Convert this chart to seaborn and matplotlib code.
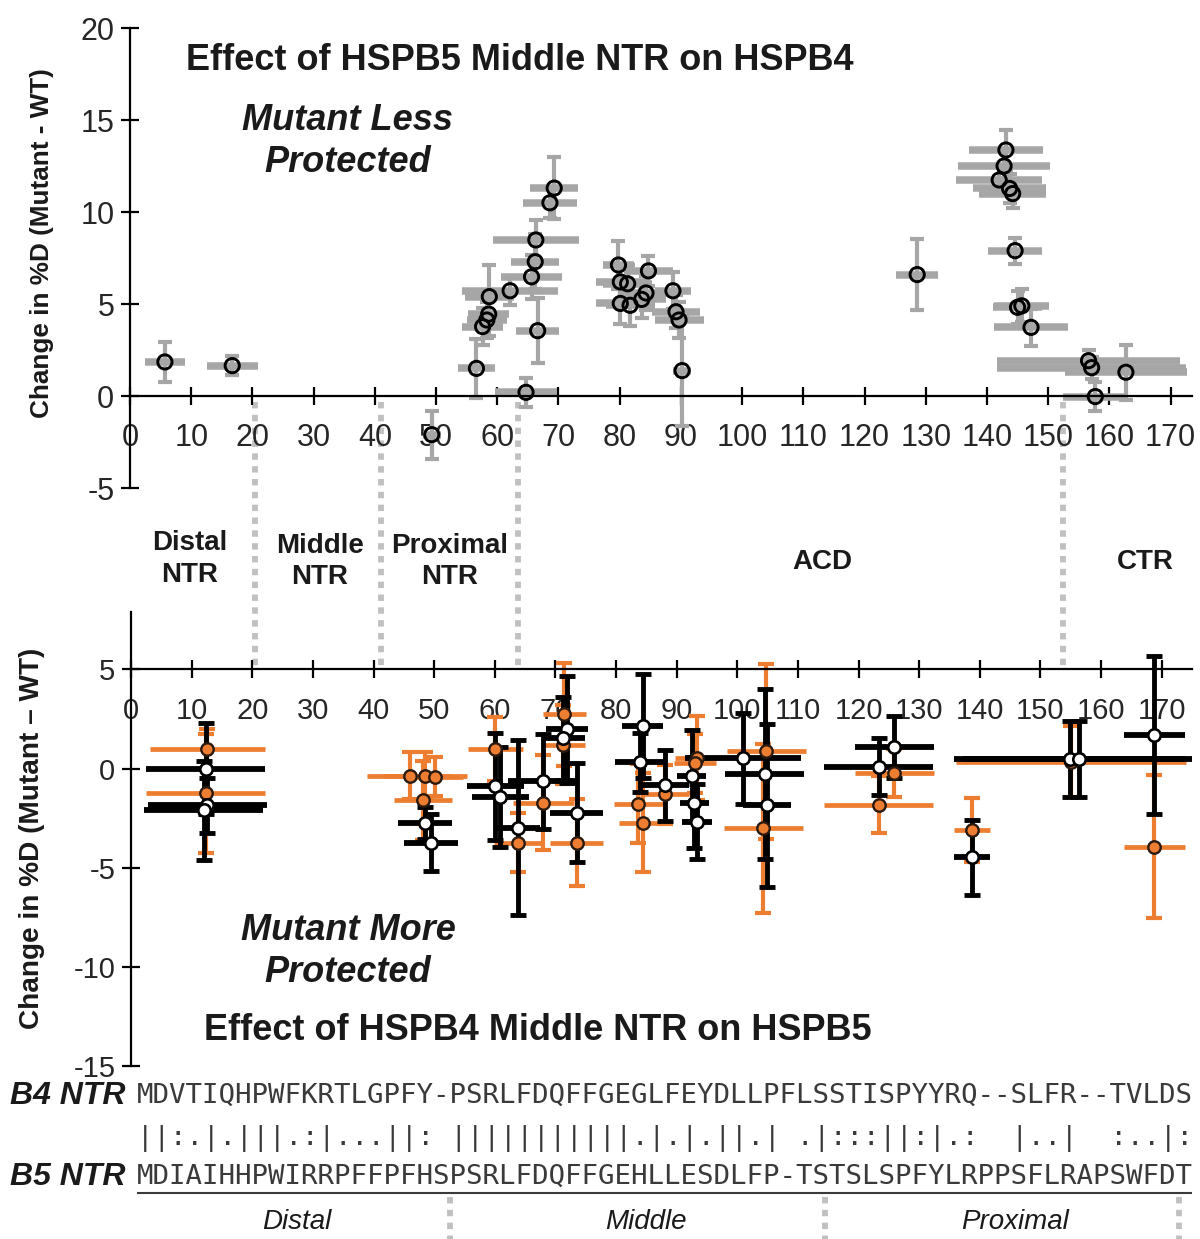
import numpy as np
import pandas as pd
import matplotlib
matplotlib.use("Agg")
import matplotlib.pyplot as plt
import seaborn as sns
from matplotlib import transforms
from matplotlib.lines import Line2D

# ---------------- data ----------------
# Top panel: Effect of HSPB5 Middle NTR on HSPB4 (residue midpoint, delta %D)
top_x = [5.7, 16.7, 49.3, 56.6, 57.6, 58.3, 58.6, 58.7, 62.1, 64.7, 65.6, 66.2, 66.3, 66.6,
         68.6, 69.3, 79.8, 80.1, 81.3, 80.1, 81.7, 83.6, 84.3, 84.7, 88.7, 89.2, 89.7, 90.2,
         128.6, 143.1, 142.8, 142.0, 143.7, 144.2, 144.6, 145.0, 145.7, 147.2, 156.6, 157.1,
         162.7, 157.7]
top_y = [1.85, 1.65, -2.1, 1.5, 3.77, 4.13, 4.45, 5.4, 5.72, 0.2, 6.48, 7.3, 8.48, 3.55,
         10.5, 11.3, 7.12, 6.2, 6.1, 5.03, 4.93, 5.25, 5.6, 6.8, 5.72, 4.58, 4.13, 1.38,
         6.6, 13.37, 12.5, 11.74, 11.28, 11.0, 7.9, 4.82, 4.9, 3.73, 1.92, 1.54, 1.29, -0.03]
top_xerr = [3.3, 4.2, 1.5, 3.0, 3.3, 3.3, 3.3, 4.0, 7.8, 5.0, 5.0, 3.9, 7.0, 3.5,
            4.4, 3.9, 2.5, 4.0, 4.0, 4.0, 4.0, 4.0, 4.0, 4.0, 3.0, 4.0, 4.0, 1.5,
            3.4, 6.0, 7.5, 7.0, 6.0, 5.5, 4.4, 4.0, 4.5, 6.0, 15.0, 15.5, 10.0, 5.3]
top_yerr = [1.1, 0.5, 1.3, 1.6, 1.0, 1.0, 1.2, 1.7, 0.8, 0.8, 1.2, 1.5, 1.1, 1.75,
            0.8, 1.7, 1.3, 1.0, 1.0, 1.1, 1.1, 1.0, 0.9, 0.8, 1.0, 0.9, 1.0, 3.0,
            1.95, 1.1, 0.9, 0.8, 0.8, 0.8, 0.7, 0.9, 0.9, 1.0, 0.6, 0.6, 1.5, 0.8]

# Bottom panel: Effect of HSPB4 Middle NTR on HSPB5, orange series
or_x = [12.6, 12.3, 46.0, 48.5, 50.2, 48.2, 60.1, 63.9, 68.0, 71.5, 71.3, 73.5, 83.7, 84.5,
        88.0, 93.3, 93.0, 104.8, 104.3, 123.3, 125.9, 138.7, 155.0, 168.8]
or_y = [1.0, -1.25, -0.35, -0.35, -0.4, -1.6, 0.98, -3.73, -1.73, 2.73, 1.2, -3.73, -1.77, -2.73,
        -1.3, 0.53, 0.27, 0.87, -3.02, -1.82, -0.23, -3.1, 0.35, -3.93]
or_xerr = [9.5, 9.8, 7.0, 7.0, 4.5, 4.8, 4.5, 4.0, 5.0, 3.5, 3.5, 4.4, 4.0, 4.0,
           4.0, 3.5, 3.5, 6.5, 6.5, 9.0, 6.5, 3.0, 19.0, 5.0]
or_yerr = [1.0, 3.0, 1.2, 1.2, 1.0, 2.0, 1.6, 1.5, 2.4, 2.6, 2.0, 2.2, 2.0, 2.5,
           1.5, 2.1, 1.5, 4.4, 4.25, 1.45, 1.2, 1.6, 1.8, 3.6]

# Bottom panel, black series (white markers)
bk_x = [12.3, 12.6, 12.0, 48.5, 49.5, 60.1, 60.9, 63.9, 68.0, 71.9, 71.3, 73.5, 84.4, 83.9,
        88.0, 92.5, 92.9, 93.4, 100.9, 104.5, 104.9, 123.3, 125.9, 138.7, 154.8, 156.3, 168.8]
bk_y = [0.0, -1.85, -2.1, -2.73, -3.73, -0.9, -1.43, -2.97, -0.63, 1.98, 1.53, -2.23, 2.15, 0.32,
        -0.85, -0.35, -1.72, -2.68, 0.53, -0.27, -1.85, 0.1, 1.1, -4.47, 0.48, 0.48, 1.7]
bk_xerr = [9.8, 9.8, 9.8, 4.4, 4.4, 4.7, 4.7, 3.5, 5.8, 3.5, 3.5, 4.4, 3.4, 4.0,
           4.0, 2.4, 2.4, 2.5, 9.6, 6.5, 4.0, 9.0, 6.5, 3.0, 19.0, 19.0, 5.0]
bk_yerr = [2.3, 1.4, 2.5, 0.8, 1.45, 2.7, 2.5, 4.4, 2.4, 2.7, 2.1, 2.5, 2.6, 1.5,
           1.8, 2.3, 2.3, 1.9, 2.3, 4.3, 4.1, 1.45, 1.55, 1.9, 1.9, 1.9, 4.0]

x_ticks = list(range(0, 171, 10))
top_yticks = [-5, 0, 5, 10, 15, 20]
bot_yticks = [-15, -10, -5, 0, 5]
region_bounds = [20.4, 41.0, 63.4, 152.5]
region_labels = ["Distal\nNTR", "Middle\nNTR", "Proximal\nNTR", "ACD", "CTR"]

seq_b4 = "MDVTIQHPWFKRTLGPFY-PSRLFDQFFGEGLFEYDLLPFLSSTISPYYRQ--SLFR--TVLDS"
seq_match = "||:.|.|||.:|...||: |||||||||||.|.|.||.| .|:::||:|.:  |..|  :..|:"
seq_b5 = "MDIAIHHPWIRRPFFPFHSPSRLFDQFFGEHLLESDLFP-TSTSLSPFYLRPPSFLRAPSWFDT"
seq_regions = ["Distal", "Middle", "Proximal"]
seq_bounds = [19.0, 41.75, 63.2]

# ---------------- style ----------------
sns.set_theme(style="white")
plt.rcParams["font.family"] = ["Liberation Sans", "DejaVu Sans"]
plt.rcParams["axes.unicode_minus"] = False

GRAY = "#a6a6a6"
ORANGE = "#ED7D31"
TXT = "#1a1a1a"

W, H = 1200, 1239
fig = plt.figure(figsize=(W / 100, H / 100), dpi=100)


def fx(px):
    return px / W


def fy(py):
    return 1 - py / H


ax1 = fig.add_axes([fx(130), fy(488), fx(1192) - fx(130), fy(28) - fy(488)])
ax2 = fig.add_axes([fx(131), fy(1066), fx(1192) - fx(131), fy(612) - fy(1066)])
ax1.set_xlim(0, 173.5)
ax1.set_ylim(-5, 20)
ax2.set_xlim(0, 175)
ax2.set_ylim(-15, 7.9)

for ax, ypos, yt, lsz in ((ax1, 0, top_yticks, 22), (ax2, 5, bot_yticks, 21)):
    ax.set_facecolor("none")
    for s in ("top", "right"):
        ax.spines[s].set_visible(False)
    ax.spines["left"].set_color("black")
    ax.spines["left"].set_linewidth(1.6)
    ax.spines["bottom"].set_color("black")
    ax.spines["bottom"].set_linewidth(1.6)
    ax.spines["bottom"].set_position(("data", ypos))
    ax.set_xticks(x_ticks)
    ax.set_yticks(yt)
    ax.tick_params(axis="both", which="major", direction="inout", length=13, width=1.6,
                   color="black", labelcolor="#262626", labelsize=lsz,
                   bottom=True, left=True)
    ax.tick_params(axis="x", pad=13)
    ax.tick_params(axis="y", pad=4.8)
    ax.grid(False)

# ---- top panel ----
ax1.errorbar(top_x, top_y, xerr=top_xerr, fmt="none", ecolor=GRAY, elinewidth=5.4,
             capsize=0, zorder=2)
ax1.errorbar(top_x, top_y, yerr=top_yerr, fmt="none", ecolor=GRAY, elinewidth=3,
             capsize=5, capthick=3, zorder=2)
df_top = pd.DataFrame({"res": top_x, "dD": top_y})
sns.scatterplot(data=df_top, x="res", y="dD", ax=ax1, s=105, color="white",
                edgecolor="black", linewidth=2.1, zorder=4, legend=False)
ax1.collections[-1].set_facecolor("none")
ax1.set_xlabel("")
ax1.set_ylabel("")

# ---- bottom panel ----
ax2.errorbar(or_x, or_y, xerr=or_xerr, fmt="none", ecolor=ORANGE, elinewidth=3.4, zorder=2)
ax2.errorbar(or_x, or_y, yerr=or_yerr, fmt="none", ecolor=ORANGE, elinewidth=3,
             capsize=5.5, capthick=3, zorder=2)
ax2.errorbar(bk_x, bk_y, xerr=bk_xerr, fmt="none", ecolor="black", elinewidth=4.2, zorder=3)
ax2.errorbar(bk_x, bk_y, yerr=bk_yerr, fmt="none", ecolor="black", elinewidth=3.5,
             capsize=5.5, capthick=3.5, zorder=3)
df_or = pd.DataFrame({"res": or_x, "dD": or_y})
df_bk = pd.DataFrame({"res": bk_x, "dD": bk_y})
sns.scatterplot(data=df_or, x="res", y="dD", ax=ax2, s=80, color=ORANGE,
                edgecolor="#2a1a10", linewidth=1.7, zorder=5, legend=False)
sns.scatterplot(data=df_bk, x="res", y="dD", ax=ax2, s=80, color="white",
                edgecolor="black", linewidth=1.9, zorder=6, legend=False)
ax2.set_xlabel("")
ax2.set_ylabel("")

# ---- region dotted separators between panels ----
trans = transforms.blended_transform_factory(ax1.transData, fig.transFigure)
for b in region_bounds:
    fig.add_artist(Line2D([b, b], [fy(402), fy(671)], transform=trans, color="#c0c0c0",
                          lw=4.2, linestyle=(0, (1.1, 1.1)), zorder=0))

# ---- texts ----
fig.text(fx(520), fy(60), "Effect of HSPB5 Middle NTR on HSPB4", ha="center", va="center",
         fontsize=26, fontweight="bold", color=TXT)
fig.text(fx(348), fy(121), "Mutant Less", ha="center", va="center", fontsize=26,
         fontweight="bold", fontstyle="italic", color=TXT)
fig.text(fx(348), fy(163), "Protected", ha="center", va="center", fontsize=26,
         fontweight="bold", fontstyle="italic", color=TXT)
fig.text(fx(42), fy(243), "Change in %D (Mutant - WT)", rotation=90, ha="center",
         va="center", fontsize=18.8, fontweight="bold", color=TXT)

reg_pos = [(190, 559), (320, 561), (450, 561), (822, 562), (1145, 562)]
for lab, (px, py) in zip(region_labels, reg_pos):
    fig.text(fx(px), fy(py), lab, ha="center", va="center", fontsize=20,
             fontweight="bold", color=TXT, linespacing=1.25)

fig.text(fx(348), fy(931), "Mutant More", ha="center", va="center", fontsize=26,
         fontweight="bold", fontstyle="italic", color=TXT)
fig.text(fx(348), fy(973), "Protected", ha="center", va="center", fontsize=26,
         fontweight="bold", fontstyle="italic", color=TXT)
fig.text(fx(538), fy(1030), "Effect of HSPB4 Middle NTR on HSPB5", ha="center",
         va="center", fontsize=26, fontweight="bold", color=TXT)
fig.text(fx(32), fy(838), "Change in %D (Mutant \u2013 WT)", rotation=90, ha="center",
         va="center", fontsize=20.2, fontweight="bold", color=TXT)

# ---- sequence alignment ----
ax3 = fig.add_axes([fx(137), 0, fx(1192) - fx(137), fy(1070)])
ax3.set_xlim(0, 64)
ax3.set_ylim(H, 1070)
ax3.axis("off")
mono = dict(fontfamily="DejaVu Sans Mono", fontsize=19.7, color="#3a3a3a", ha="left",
            va="center")
ax3.text(0, 1096, seq_b4, **mono)
ax3.text(0, 1138, seq_match, **mono)
ax3.text(0, 1177, seq_b5, **mono)
ax3.plot([0, 64], [1193, 1193], color="#3a3a3a", lw=1.5, solid_capstyle="butt")
for b in seq_bounds:
    ax3.plot([b, b], [1197, 1239], color="#c0c0c0", lw=4.2, linestyle=(0, (1.1, 1.1)))
seq_lab_pos = [(297 - 137) / (1055 / 64), (646 - 137) / (1055 / 64), (1015 - 137) / (1055 / 64)]
for lab, px in zip(seq_regions, seq_lab_pos):
    ax3.text(px, 1222, lab, ha="center", va="center", fontsize=20, fontstyle="italic",
             color=TXT)

fig.text(fx(125), fy(1096), "B4 NTR", ha="right", va="center", fontsize=23,
         fontweight="bold", fontstyle="italic", color=TXT)
fig.text(fx(125), fy(1177), "B5 NTR", ha="right", va="center", fontsize=23,
         fontweight="bold", fontstyle="italic", color=TXT)

fig.savefig("out.png", dpi=100, facecolor="white")
